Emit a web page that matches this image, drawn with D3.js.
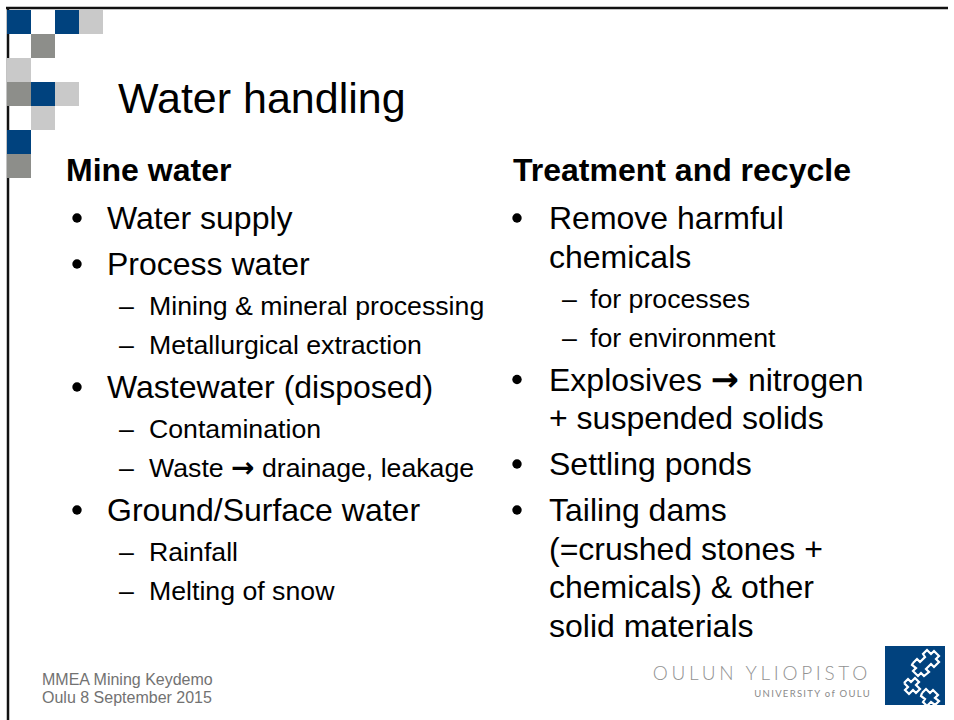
<!DOCTYPE html>
<html>
<head>
<meta charset="utf-8">
<script src="https://cdn.jsdelivr.net/npm/d3@7/dist/d3.min.js"></script>
<style>
  html, body { margin: 0; padding: 0; background: #fff; }
  svg { display: block; font-family: "Liberation Sans", Arial, sans-serif; }
</style>
</head>
<body>
<div id="slide"></div>
<script>
// slide content
var title = "Water handling";
var leftHeader = "Mine water";
var rightHeader = "Treatment and recycle";

// [level, lines of the paragraph]
var leftItems = [
  [1, ["Water supply"]],
  [1, ["Process water"]],
  [2, ["Mining & mineral processing"]],
  [2, ["Metallurgical extraction"]],
  [1, ["Wastewater (disposed)"]],
  [2, ["Contamination"]],
  [2, ["Waste \u2192 drainage, leakage"]],
  [1, ["Ground/Surface water"]],
  [2, ["Rainfall"]],
  [2, ["Melting of snow"]]
];
var rightItems = [
  [1, ["Remove harmful", "chemicals"]],
  [2, ["for processes"]],
  [2, ["for environment"]],
  [1, ["Explosives \u2192 nitrogen", "+ suspended solids"]],
  [1, ["Settling ponds"]],
  [1, ["Tailing dams", "(=crushed stones +", "chemicals) & other", "solid materials"]]
];
var footerLines = ["MMEA Mining Keydemo", "Oulu 8 September 2015"];
var logoText = "OULUN YLIOPISTO";
var logoSub = "UNIVERSITY of OULU";

// corner mosaic, B = blue, D = dark grey, L = light grey
var mosaic = ["B.BL", ".D..", "L...", "DBL.", ".L..", "B...", "D..."];
var mosaicColors = { B: "#00427e", D: "#8d8e8a", L: "#c9c9c9" };

var W = 954, H = 720;
var svg = d3.select("#slide").append("svg")
  .attr("width", W).attr("height", H);

// frame
svg.append("line").attr("x1", 6).attr("x2", 948).attr("y1", 8).attr("y2", 8)
  .attr("stroke", "#111").attr("stroke-width", 2.5);
svg.append("line").attr("x1", 8).attr("x2", 8).attr("y1", 7).attr("y2", H)
  .attr("stroke", "#111").attr("stroke-width", 2.5);

// mosaic squares
var cx = d3.scaleBand().domain(d3.range(4)).range([7, 103]);
var cy = d3.scaleBand().domain(d3.range(mosaic.length)).range([10, 10 + 24 * mosaic.length]);
var cells = [];
mosaic.forEach(function(row, r) {
  row.split("").forEach(function(c, k) {
    if (c !== ".") cells.push({ r: r, k: k, c: c });
  });
});
svg.append("g").selectAll("rect").data(cells).enter().append("rect")
  .attr("x", d => cx(d.k)).attr("y", d => cy(d.r))
  .attr("width", cx.bandwidth()).attr("height", cy.bandwidth())
  .attr("fill", d => mosaicColors[d.c]);

// title
svg.append("text").attr("x", 118).attr("y", 113)
  .attr("font-size", 43).attr("fill", "#000").text(title);

// bulleted columns
var headGap = 48;
var gapBefore = { 11: 46, 12: 40, 21: 44, 22: 39 };
var contGap = 38.5;
var size1 = 32, size2 = 26.7;

// text with the wingdings-like arrow swapped to a heavier glyph
function addLine(g, x, y, size, line) {
  var t = g.append("text").attr("x", x).attr("y", y).attr("font-size", size);
  var parts = line.split("\u2192");
  parts.forEach(function(p, i) {
    if (i > 0) {
      t.append("tspan").attr("font-family", "'DejaVu Sans', sans-serif")
        .attr("font-weight", "bold").attr("font-size", size * 1.05).text("\u2192");
    }
    t.append("tspan").text(p);
  });
}

function column(o, header, items) {
  var g = svg.append("g");
  g.append("text").attr("x", o.head).attr("y", 181)
    .attr("font-size", 32).attr("font-weight", "bold").text(header);
  var y = 181, prev = 0;
  items.forEach(function(it) {
    var level = it[0], lines = it[1];
    y += prev === 0 ? headGap : gapBefore[prev * 10 + level];
    if (level === 1) {
      g.append("circle").attr("cx", o.bullet).attr("cy", y - 11).attr("r", 4.7).attr("fill", "#000");
    } else {
      g.append("text").attr("x", o.dash).attr("y", y).attr("font-size", size2).text("\u2013");
    }
    lines.forEach(function(line, i) {
      if (i > 0) y += contGap;
      addLine(g, level === 1 ? o.text1 : o.text2, y, level === 1 ? size1 : size2, line);
    });
    prev = level;
  });
}
column({ head: 66, bullet: 77, text1: 107, dash: 119, text2: 149 }, leftHeader, leftItems);
column({ head: 513, bullet: 517, text1: 549, dash: 562, text2: 590 }, rightHeader, rightItems);

// footer
svg.append("g").selectAll("text").data(footerLines).enter().append("text")
  .attr("x", 42).attr("y", (d, i) => 685 + i * 18)
  .attr("font-size", 16).attr("fill", "#727272").text(d => d);

// university logo
svg.append("text").attr("x", 871).attr("y", 680).attr("text-anchor", "end")
  .attr("font-family", "Lato, 'Open Sans', sans-serif").attr("font-weight", 300)
  .attr("font-size", 19).attr("letter-spacing", 3.7).attr("fill", "#929292").text(logoText);
svg.append("text").attr("x", 871).attr("y", 697).attr("text-anchor", "end")
  .attr("font-family", "Lato, 'Open Sans', sans-serif").attr("font-weight", 400)
  .attr("font-size", 9.5).attr("letter-spacing", 1.3).attr("fill", "#8a8a8a").text(logoSub);

var logo = svg.append("g").attr("transform", "translate(885,646)");
logo.append("rect").attr("width", 60).attr("height", 59).attr("fill", "#01427e");
var step = d3.line();
var shapes = [
  [[28, 17], [32, 13], [35, 16], [40, 11], [38, 8], [42, 4], [46, 8], [49, 5], [54, 10], [51, 13], [54, 16], [49, 21], [46, 18], [41, 23], [44, 26], [39, 30], [36, 27], [33, 30], [28, 25], [31, 22], [27, 19], [28, 17]],
  [[19, 37], [23, 33], [26, 36], [30, 32], [34, 36], [31, 39], [35, 43], [31, 47], [28, 44], [24, 48], [20, 44], [23, 41], [19, 37]],
  [[37, 47], [41, 43], [45, 47], [48, 44], [53, 49], [50, 52], [54, 55], [50, 59], [46, 56], [42, 60], [38, 56], [40, 53], [36, 50], [37, 47]]
];
logo.selectAll("path").data(shapes).enter().append("path")
  .attr("d", d => step(d)).attr("fill", "none").attr("stroke", "#fff").attr("stroke-width", 2.2);
</script>
</body>
</html>
